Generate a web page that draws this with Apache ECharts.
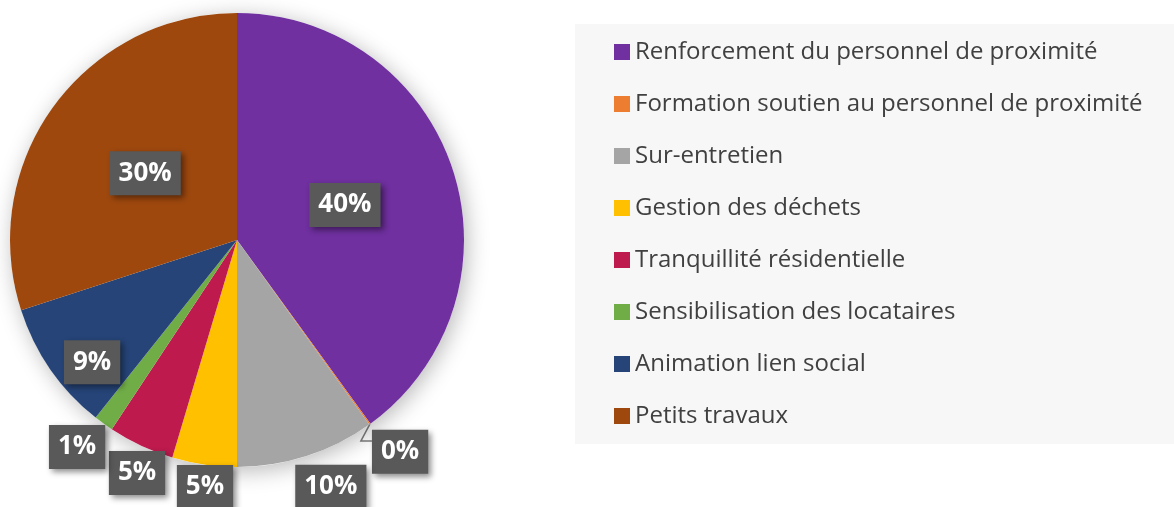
<!DOCTYPE html>
<html>
<head>
<meta charset="utf-8">
<script src="https://cdn.jsdelivr.net/npm/echarts@6/dist/echarts.min.js"></script>
<style>
  html, body { margin: 0; padding: 0; background: #ffffff; }
  #chart { width: 1174px; height: 507px; }
</style>
</head>
<body>
<div id="chart"></div>
<script>
// Répartition des actions (en %)
const categories = [
  'Renforcement du personnel de proximité',
  'Formation soutien au personnel de proximité',
  'Sur-entretien',
  'Gestion des déchets',
  'Tranquillité résidentielle',
  'Sensibilisation des locataires',
  'Animation lien social',
  'Petits travaux'
];
const shares = [40, 0.1, 9.9, 4.6, 4.7, 1.4, 9.3, 30];
const colors = ['#7030A0', '#ED7D31', '#A5A5A5', '#FFC000', '#BE1A4E', '#70AD47', '#264478', '#9E480E'];

// Pie geometry
const PIE_CX = 237, PIE_CY = 240, PIE_R = 227;
// Placement of each value label: fraction of the radius, and angular nudge (degrees)
const labelRadius = [0.5, 1.177, 1.163, 1.097, 1.117, 1.152, 0.835, 0.5];
const labelNudge  = [0, -1.8, -3, -0.9, -1.8, 1.7, -5.4, 0];

const total = shares.reduce((a, b) => a + b, 0);
const midAngles = [];
let acc = 0;
shares.forEach(v => {
  midAngles.push((acc + v / 2) / total * 2 * Math.PI);
  acc += v;
});

function polar(angle, r) {
  return [PIE_CX + r * Math.sin(angle), PIE_CY - r * Math.cos(angle)];
}

const chart = echarts.init(document.getElementById('chart'), null, { renderer: 'canvas' });
const FONT = '"Open Sans", "Noto Sans", sans-serif';

chart.setOption({
  animation: false,
  color: colors,
  legend: {
    orient: 'vertical',
    left: 575,
    top: 24,
    padding: [15, 60, 15, 39],
    backgroundColor: '#F7F7F7',
    itemWidth: 16,
    itemHeight: 16,
    itemGap: 26,
    icon: 'rect',
    selectedMode: false,
    textStyle: { fontSize: 24, color: '#404040', fontFamily: FONT, lineHeight: 26 },
    data: categories
  },
  series: [
    {
      // soft shadow beneath the pie
      type: 'pie',
      silent: true,
      center: [PIE_CX, PIE_CY],
      radius: PIE_R,
      label: { show: false },
      labelLine: { show: false },
      legendHoverLink: false,
      itemStyle: {
        color: '#ffffff',
        shadowBlur: 22,
        shadowOffsetX: 3,
        shadowOffsetY: 4,
        shadowColor: 'rgba(0,0,0,0.28)'
      },
      data: [{ value: 1, name: '' }]
    },
    {
      type: 'pie',
      center: [PIE_CX, PIE_CY],
      radius: PIE_R,
      startAngle: 90,
      clockwise: true,
      avoidLabelOverlap: false,
      data: categories.map((name, i) => ({
        name,
        value: shares[i],
        labelLine: { show: i === 1 }
      })),
      itemStyle: { borderWidth: 0 },
      label: {
        show: true,
        position: 'outside',
        formatter: p => Math.round(p.percent) + '%',
        color: '#ffffff',
        fontSize: 26,
        lineHeight: 30,
        fontWeight: 'bold',
        fontFamily: FONT,
        backgroundColor: '#595959',
        padding: [7, 9, 7, 9],
        shadowBlur: 6,
        shadowOffsetX: 3,
        shadowOffsetY: 3,
        shadowColor: 'rgba(0,0,0,0.45)'
      },
      labelLine: {
        show: false,
        lineStyle: { color: '#7F7F7F', width: 1.5 }
      },
      labelLayout: function (params) {
        const i = params.dataIndex;
        const ang = midAngles[i] + labelNudge[i] * Math.PI / 180;
        const pos = polar(ang, labelRadius[i] * PIE_R);
        const out = { x: pos[0], y: pos[1], align: 'center', verticalAlign: 'middle' };
        if (i === 1) {
          const edge = polar(midAngles[i], PIE_R);
          const knee = [edge[0] - 9, edge[1] + 17];
          out.labelLinePoints = [edge, knee, [pos[0] - params.labelRect.width / 2, knee[1]]];
        }
        return out;
      }
    }
  ]
});
</script>
</body>
</html>
